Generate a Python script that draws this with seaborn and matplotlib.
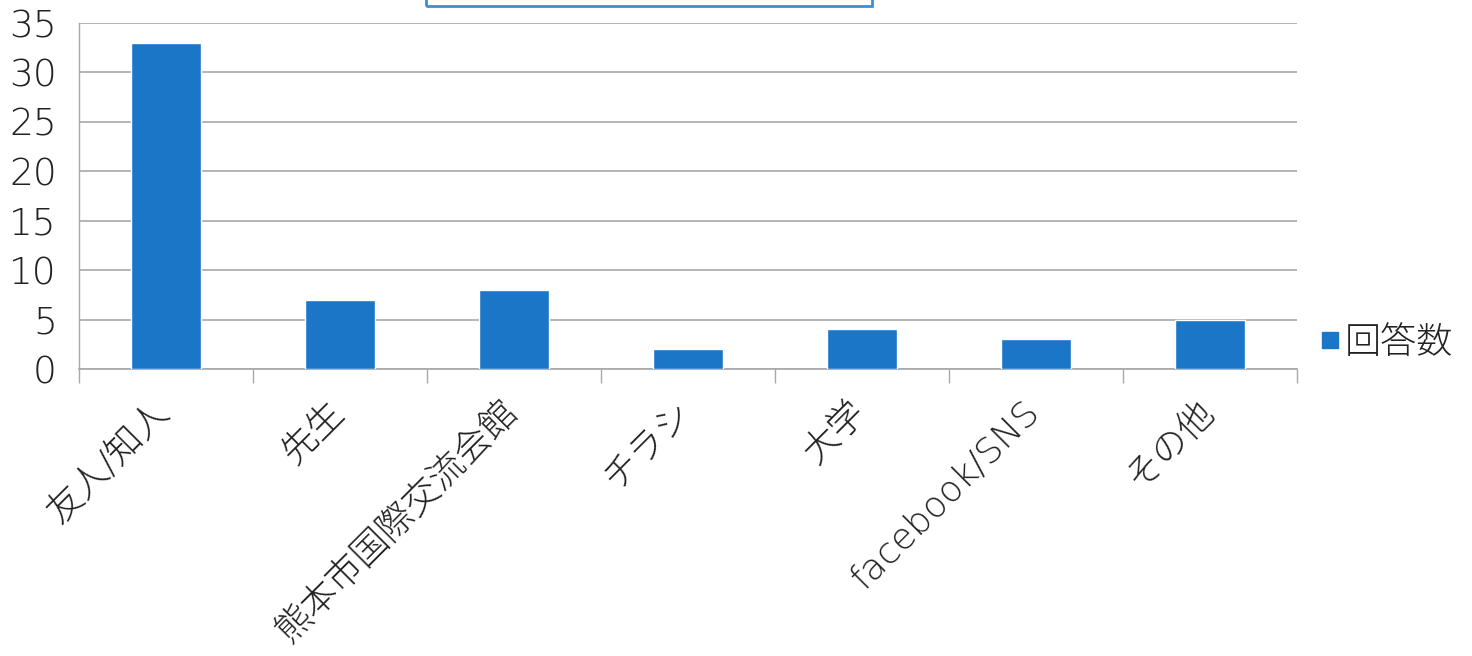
import matplotlib
matplotlib.use("Agg")
import matplotlib.pyplot as plt
import seaborn as sns
import pandas as pd
from matplotlib.patches import Rectangle
from matplotlib.lines import Line2D
from matplotlib.transforms import ScaledTranslation

categories = ["友人/知人", "先生", "熊本市国際交流会館", "チラシ", "大学", "facebook/SNS", "その他"]
values = [33, 7, 8, 2, 4, 3, 5]
series_name = "回答数"
yticks = [0, 5, 10, 15, 20, 25, 30, 35]

sns.set_theme(style="white")
FAM = ['DejaVu Sans', 'Noto Sans CJK JP']
plt.rcParams['font.family'] = FAM

BLUE = "#1c76c8"
GRID = "#a8a8a8"
TXT = "#222222"
FS = 26

df = pd.DataFrame({"cat": categories, "val": values})

fig = plt.figure(figsize=(14.72, 6.56), dpi=100)
ax = fig.add_axes([79/1472, 1-369/656, (1297-79)/1472, (369-23)/656])
sns.barplot(data=df, x="cat", y="val", color=BLUE, width=0.4, saturation=1, ax=ax, zorder=3)

ax.set_xlim(-0.5, len(categories)-0.5)
ax.set_ylim(0, 35)
ax.set_yticks(yticks)
ax.set_yticklabels([str(t) for t in yticks], fontsize=FS + 1, color=TXT, fontweight="light")
ax.tick_params(axis="y", length=9, width=1, color=GRID, pad=7)
ax.yaxis.grid(True, color=GRID, linewidth=1.2, zorder=0)
ax.set_axisbelow(True)

ax.set_xticks(range(len(categories)))
ax.set_xticklabels(categories, rotation=45, ha="right", va="center", rotation_mode="anchor",
                   fontsize=FS, color=TXT, fontweight="light")
ax.tick_params(axis="x", which="major", length=0, pad=27)
ax.set_xticks([i-0.5 for i in range(len(categories)+1)], minor=True)
ax.tick_params(axis="x", which="minor", length=10, width=1, color=GRID, bottom=True)
shift = ScaledTranslation(-2/100, 0, fig.dpi_scale_trans)
for lbl in ax.get_xticklabels():
    lbl.set_transform(lbl.get_transform() + shift)

ax.set_xlabel("")
ax.set_ylabel("")
for s in ["top", "right"]:
    ax.spines[s].set_visible(False)
ax.spines["left"].set_color(GRID)
ax.spines["bottom"].set_color(GRID)
ax.spines["left"].set_linewidth(1)
ax.spines["bottom"].set_linewidth(1.2)

# legend
handle = Line2D([], [], marker="s", linestyle="none", markersize=11, color=BLUE)
fig.legend([handle], [series_name], loc="center left", bbox_to_anchor=(1316/1472, 1-343/656),
           frameon=False, handletextpad=0.05, handlelength=0.75, borderpad=0, borderaxespad=0,
           prop={"family": FAM, "size": FS, "weight": "light"}, labelcolor=TXT)

# cut-off title box at top
fig.patches.append(Rectangle((426/1472, 1-6/656), (872-426)/1472, 0.05, transform=fig.transFigure,
                             fill=False, edgecolor="#3b8fd6", linewidth=2, clip_on=False))

fig.savefig("out.png", dpi=100, facecolor="white")
